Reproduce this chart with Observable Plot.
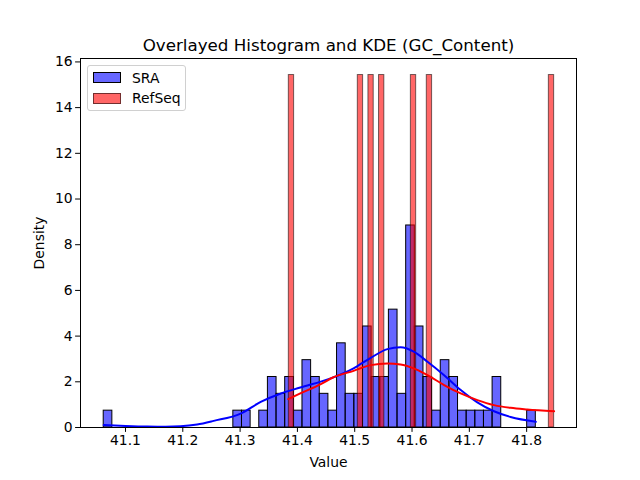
<!DOCTYPE html>
<html>
<head>
<meta charset="utf-8">
<script src="https://cdn.jsdelivr.net/npm/d3@7"></script>
<script src="https://cdn.jsdelivr.net/npm/@observablehq/plot@0.6"></script>
<style>
  html, body { margin: 0; padding: 0; background: #fff; }
  #wrap { position: relative; width: 640px; height: 480px; font-family: "DejaVu Sans", sans-serif; }
  #legend { position: absolute; left: 87px; top: 65px; width: 97px; height: 44px;
            border: 1px solid #d0d0d0; border-radius: 3px; background: rgba(255,255,255,0.8);
            font-size: 13.9px; color: #000; }
  .item { position: absolute; left: 5px; height: 20px; display: flex; align-items: center; }
  .sw { width: 26px; height: 9px; border: 1px solid #000; box-sizing: content-box; margin-right: 11px; }
</style>
</head>
<body>
<div id="wrap"><div id="legend"></div></div>
<script>
// ---- data ----
const titleText = "Overlayed Histogram and KDE (GC_Content)";
const seriesNames = ["SRA", "RefSeq"];
const seriesColors = ["#0000ff", "#ff0000"];

// SRA histogram: 50 equal bins over this value range, counts per bin
const sraRange = [41.062, 41.816];
const sraCounts = [1,0,0,0,0,0,0,0,0,0,0,0,0,0,0,1,1,0,1,3,
                   2,3,1,4,3,2,1,5,2,2,6,3,3,7,2,12,6,3,1,4,
                   3,1,1,1,1,3,0,0,0,1];

// RefSeq values (7 genomes), histogram with 50 bins
const refseqValues = [41.385, 41.510, 41.529, 41.547, 41.603, 41.631, 41.848];
const refseqBinCount = 50;

// KDE curves
const sraKdeX = [41.062, 41.100, 41.138, 41.170, 41.196, 41.225, 41.254, 41.301, 41.336, 41.371, 41.405, 41.458,
                 41.498, 41.528, 41.557, 41.580, 41.603, 41.627, 41.656, 41.685, 41.714, 41.743, 41.772, 41.816];
const sraKdeY = [0.11, 0.07, 0.04, 0.03, 0.05, 0.13, 0.29, 0.61, 1.12, 1.49, 1.75, 2.15,
                 2.59, 3.05, 3.43, 3.51, 3.32, 2.88, 2.29, 1.64, 1.10, 0.71, 0.46, 0.25];
const refKdeX = [41.384, 41.405, 41.440, 41.463, 41.498, 41.528, 41.557, 41.580, 41.603, 41.627,
                 41.656, 41.685, 41.714, 41.743, 41.772, 41.801, 41.848];
const refKdeY = [1.24, 1.49, 1.89, 2.20, 2.48, 2.73, 2.80, 2.76, 2.59, 2.29,
                 1.86, 1.49, 1.20, 0.98, 0.86, 0.79, 0.71];

const xTicks = [41.1, 41.2, 41.3, 41.4, 41.5, 41.6, 41.7, 41.8];
const yTicks = [0, 2, 4, 6, 8, 10, 12, 14, 16];

// ---- derived tables ----
const sraN = d3.sum(sraCounts);
const sraW = (sraRange[1] - sraRange[0]) / sraCounts.length;
const sraBins = sraCounts.map((c, i) => ({
  x1: sraRange[0] + i * sraW, x2: sraRange[0] + (i + 1) * sraW, y: c / (sraN * sraW)
})).filter(d => d.y > 0);

const rMin = d3.min(refseqValues), rMax = d3.max(refseqValues);
const rW = (rMax - rMin) / refseqBinCount;
const thresholds = d3.range(refseqBinCount + 1).map(i => rMin + i * rW);
const refBins = d3.bin().domain([rMin, rMax]).thresholds(thresholds.slice(1, -1))(refseqValues)
  .filter(b => b.length > 0)
  .map(b => ({ x1: b.x0, x2: b.x1, y: b.length / (refseqValues.length * rW) }));

const sraKde = sraKdeX.map((x, i) => ({ x, y: sraKdeY[i] }));
const refKde = refKdeX.map((x, i) => ({ x, y: refKdeY[i] }));

const chart = Plot.plot({
  width: 640,
  height: 480,
  marginLeft: 80,
  marginRight: 64,
  marginTop: 58,
  marginBottom: 53,
  style: { fontFamily: "DejaVu Sans", fontSize: "13.9px", color: "#000", background: "#fff", overflow: "visible" },
  x: { domain: [41.0215, 41.887], ticks: xTicks, tickFormat: d => d.toFixed(1),
       label: "Value", labelAnchor: "center", labelOffset: 39, tickSize: 4.9, tickPadding: 3, labelArrow: "none" },
  y: { domain: [0, 16.15], ticks: yTicks, label: "Density", labelAnchor: "center", labelOffset: 46,
       tickSize: 4.9, tickPadding: 3, labelArrow: "none" },
  marks: [
    Plot.rectY(sraBins, { x1: "x1", x2: "x2", y: "y", fill: seriesColors[0], fillOpacity: 0.6,
                          stroke: "#000", strokeWidth: 1, inset: 0 }),
    Plot.rectY(refBins, { x1: "x1", x2: "x2", y: "y", fill: seriesColors[1], fillOpacity: 0.6,
                          stroke: "#000", strokeOpacity: 0.55, strokeWidth: 1, inset: 0 }),
    Plot.line(sraKde, { x: "x", y: "y", stroke: seriesColors[0], strokeWidth: 2, curve: "monotone-x" }),
    Plot.line(refKde, { x: "x", y: "y", stroke: seriesColors[1], strokeWidth: 2, curve: "monotone-x" }),
    Plot.frame({ stroke: "#000", strokeWidth: 1 }),
    Plot.text([titleText], { text: d => d, frameAnchor: "top", dy: -8, lineAnchor: "bottom", fontSize: 16.7 })
  ]
});
document.getElementById("wrap").prepend(chart);

// legend (real text) from the series arrays
const legend = document.getElementById("legend");
const swatchFill = ["rgba(0,0,255,0.6)", "rgba(255,0,0,0.6)"];
const swatchEdge = ["#000", "rgba(0,0,0,0.55)"];
seriesNames.forEach((name, i) => {
  const item = document.createElement("div");
  item.className = "item";
  item.style.top = (i === 0 ? 1.5 : 22) + "px";
  const sw = document.createElement("span");
  sw.className = "sw";
  sw.style.background = swatchFill[i];
  sw.style.borderColor = swatchEdge[i];
  const t = document.createElement("span");
  t.textContent = name;
  item.append(sw, t);
  legend.append(item);
});
</script>
</body>
</html>
